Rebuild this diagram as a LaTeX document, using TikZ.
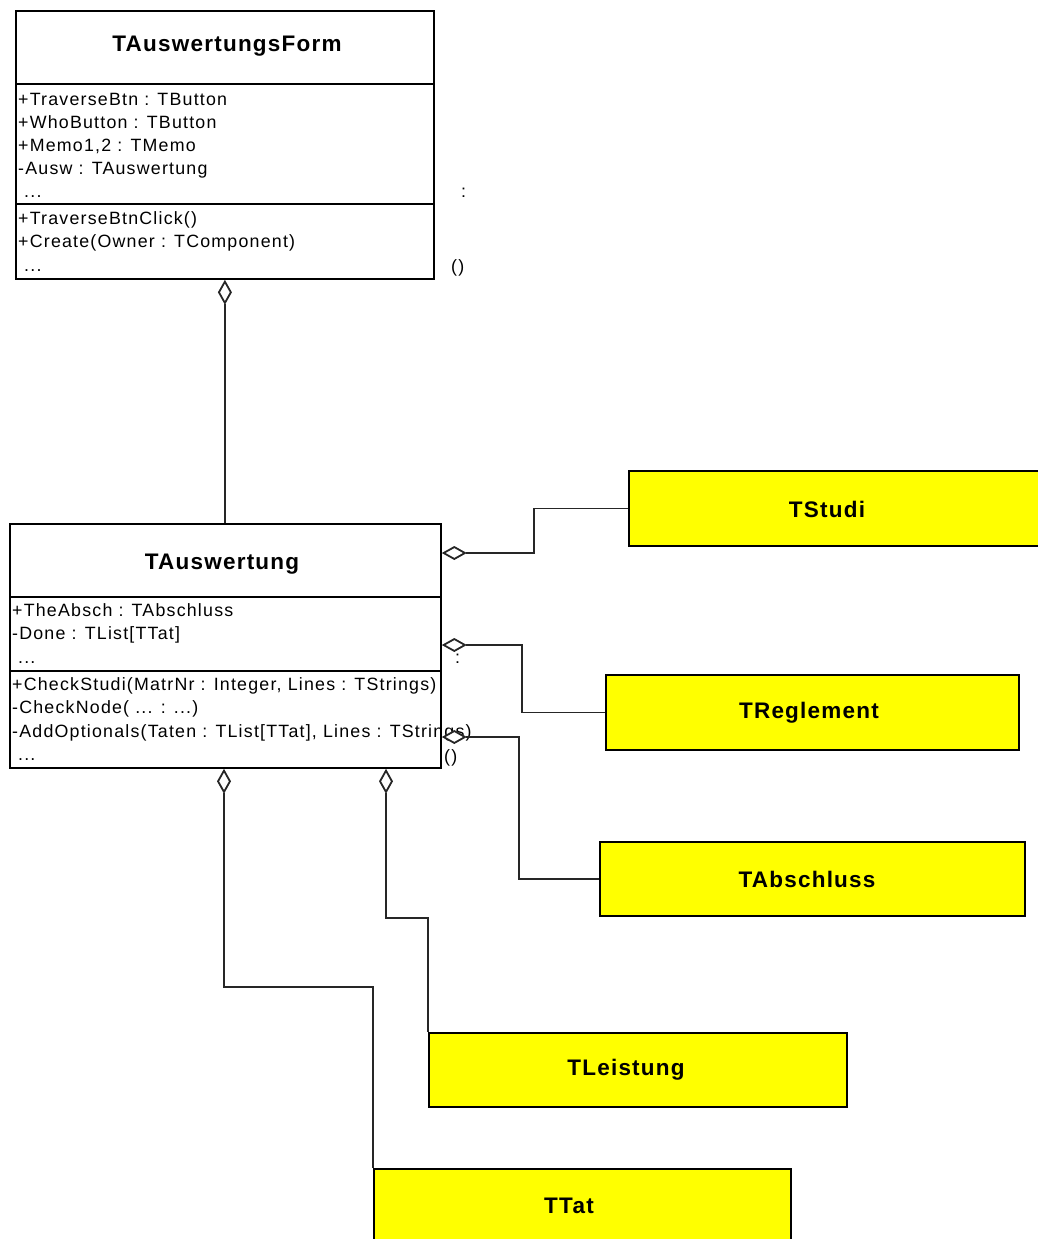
\documentclass[tikz,border=0pt]{standalone}
\usepackage{fontspec}
\setmainfont{Liberation Sans}
\newfontfamily\umlreg[LetterSpace=6.8]{Liberation Sans}
\newfontfamily\umlhead[LetterSpace=5.5]{Liberation Sans}
\usetikzlibrary{arrows.meta,calc}
\definecolor{refyellow}{RGB}{255,255,0}

\begin{document}
\begin{tikzpicture}[x=1pt,y=-1pt,
  classbox/.style={draw=black, line width=1.8pt, inner sep=0pt, anchor=north west, fill=white},
  refbox/.style={draw=black, line width=1.8pt, inner sep=0pt, anchor=north west, fill=refyellow},
  sepline/.style={draw=black, line width=1.6pt},
  headtext/.style={inner sep=0pt, anchor=base, font=\umlhead\bfseries\fontsize{22.5}{27}\selectfont},
  membertext/.style={inner sep=0pt, anchor=base west, font=\umlreg\fontsize{17.8}{23}\selectfont},
  agg/.style={draw=black!85, line width=1.2pt,
    {Diamond[length=25pt,width=14pt,fill=white,line width=1.8pt]}-},
]
\useasboundingbox (0,0) rectangle (1038,1239);
\clip (0,0) rectangle (1038,1239);

% ---- class TAuswertungsForm ----
\node[classbox, minimum width=418pt, minimum height=268pt] (form) at (15,10) {};
\draw[sepline] ($(form.north west)+(0,74)$) -- ($(form.north east)+(0,74)$);
\draw[sepline] ($(form.north west)+(0,194)$) -- ($(form.north east)+(0,194)$);
\node[headtext] (formT) at (227,52) {TAuswertungsForm};
\node[membertext] (fa1) at (18,105) {+TraverseBtn : TButton};
\node[membertext] (fa2) at (18,128) {+WhoButton : TButton};
\node[membertext] (fa3) at (18,151) {+Memo1,2 : TMemo};
\node[membertext] (fa4) at (18,174) {-Ausw : TAuswertung};
\node[membertext] (fa5) at (24,197) {...};
\node[membertext] (fm1) at (18,224) {+TraverseBtnClick()};
\node[membertext] (fm2) at (18,247) {+Create(Owner : TComponent)};
\node[membertext] (fm3) at (24,271) {...};
\node[membertext] (fx1) at (461,197) {:};
\node[membertext] (fx2) at (451,272) {()};

% ---- class TAuswertung ----
\node[classbox, minimum width=431pt, minimum height=244pt] (ausw) at (9,523) {};
\draw[sepline] ($(ausw.north west)+(0,74)$) -- ($(ausw.north east)+(0,74)$);
\draw[sepline] ($(ausw.north west)+(0,148)$) -- ($(ausw.north east)+(0,148)$);
\node[headtext] (auswT) at (222,569) {TAuswertung};
\node[membertext] (aa1) at (12,616) {+TheAbsch : TAbschluss};
\node[membertext] (aa2) at (12,639) {-Done : TList[TTat]};
\node[membertext] (aa3) at (18,663) {...};
\node[membertext] (am1) at (12,690) {+CheckStudi(MatrNr : Integer, Lines : TStrings)};
\node[membertext] (am2) at (12,713) {-CheckNode( ...  : ...)};
\node[membertext] (am3) at (12,737) {-AddOptionals(Taten : TList[TTat], Lines : TStrings)};
\node[membertext] (am4) at (18,760) {...};
\node[membertext] (ax1) at (455,663) {:};
\node[membertext] (ax2) at (444,762) {()};

% ---- referenced classes ----
\node[refbox, minimum width=420pt, minimum height=75pt] (studi) at (628,470) {};
\node[headtext] (studiT) at (827,517) {TStudi};
\node[refbox, minimum width=413pt, minimum height=75pt] (regl) at (605,674) {};
\node[headtext] (reglT) at (809,718) {TReglement};
\node[refbox, minimum width=425pt, minimum height=74pt] (absch) at (599,841) {};
\node[headtext] (abschT) at (807,887) {TAbschluss};
\node[refbox, minimum width=418pt, minimum height=74pt] (leist) at (428,1032) {};
\node[headtext] (leistT) at (626,1075) {TLeistung};
\node[refbox, minimum width=417pt, minimum height=80pt] (ttat) at (373,1168) {};
\node[headtext] (ttatT) at (569,1213) {TTat};

% ---- aggregations ----
\draw[agg] (form.south) -- (form.south |- ausw.north);
\coordinate (r1) at ($(ausw.north east)+(0,30)$);
\coordinate (r2) at ($(ausw.north east)+(0,122)$);
\coordinate (r3) at ($(ausw.north east)+(0,214)$);
\draw[agg] (r1) -| ($(studi.west)+(-94,0)$) -- (studi.west);
\draw[agg] (r2) -| ($(regl.west)+(-83,0)$) -- (regl.west);
\draw[agg] (r3) -| ($(absch.west)+(-80,0)$) -- (absch.west);
\coordinate (b1) at ($(ausw.south west)+(215,0)$);
\coordinate (b2) at ($(ausw.south west)+(377,0)$);
\draw[agg] (b1) |- ($(ttat.north west)+(0,-181)$) -- (ttat.north west);
\draw[agg] (b2) |- ($(leist.north west)+(0,-114)$) -- (leist.north west);
\end{tikzpicture}
\end{document}
